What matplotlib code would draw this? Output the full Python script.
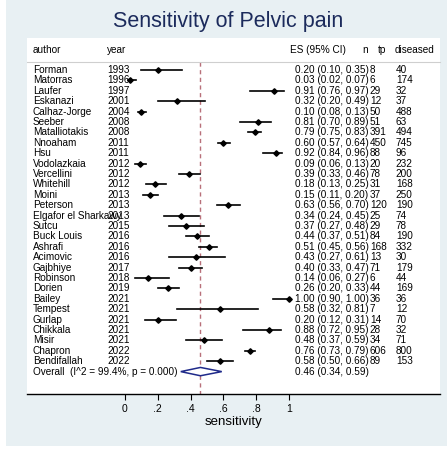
"""Forest plot: sensitivity of pelvic pain across studies (metaprop style)."""

import matplotlib
matplotlib.use("Agg")
import matplotlib.pyplot as plt
from matplotlib.patches import Polygon, Rectangle
from matplotlib.transforms import blended_transform_factory

plt.rcParams["font.family"] = ["Liberation Sans", "DejaVu Sans"]

authors = [
    "Forman", "Matorras", "Laufer", "Eskanazi", "Calhaz-Jorge", "Seeber",
    "Matalliotakis", "Nnoaham", "Hsu", "Vodolazkaia", "Vercellini", "Whitehill",
    "Moini", "Peterson", "Elgafor el Sharkawy", "Sutcu", "Buck Louis", "Ashrafi",
    "Acimovic", "Gajbhiye", "Robinson", "Dorien", "Bailey", "Tempest", "Gurlap",
    "Chikkala", "Misir", "Chapron", "Bendifallah",
]
years = [
    1993, 1996, 1997, 2001, 2004, 2008, 2008, 2011, 2011, 2012, 2012, 2012,
    2013, 2013, 2013, 2015, 2016, 2016, 2016, 2017, 2018, 2019, 2021, 2021,
    2021, 2021, 2021, 2022, 2022,
]
es = [
    0.20, 0.03, 0.91, 0.32, 0.10, 0.81, 0.79, 0.60, 0.92, 0.09, 0.39, 0.18,
    0.15, 0.63, 0.34, 0.37, 0.44, 0.51, 0.43, 0.40, 0.14, 0.26, 1.00, 0.58,
    0.20, 0.88, 0.48, 0.76, 0.58,
]
ci_lo = [
    0.10, 0.02, 0.76, 0.20, 0.08, 0.70, 0.75, 0.57, 0.84, 0.06, 0.33, 0.13,
    0.11, 0.56, 0.24, 0.27, 0.37, 0.45, 0.27, 0.33, 0.06, 0.20, 0.90, 0.32,
    0.12, 0.72, 0.37, 0.73, 0.50,
]
ci_hi = [
    0.35, 0.07, 0.97, 0.49, 0.13, 0.89, 0.83, 0.64, 0.96, 0.13, 0.46, 0.25,
    0.20, 0.70, 0.45, 0.48, 0.51, 0.56, 0.61, 0.47, 0.27, 0.33, 1.00, 0.81,
    0.31, 0.95, 0.59, 0.79, 0.66,
]
tp = [
    8, 6, 29, 12, 50, 51, 391, 450, 88, 20, 78, 31, 37, 120, 25, 29, 84, 168,
    13, 71, 6, 44, 36, 7, 14, 28, 34, 606, 89,
]
diseased = [
    40, 174, 32, 37, 488, 63, 494, 745, 96, 232, 200, 168, 250, 190, 74, 78,
    190, 332, 30, 179, 44, 169, 36, 12, 70, 32, 71, 800, 153,
]
overall_es, overall_lo, overall_hi = 0.46, 0.34, 0.59
overall_label = "Overall  (I^2 = 99.4%, p = 0.000)"
xticks = [0, 0.2, 0.4, 0.6, 0.8, 1.0]
xtick_labels = ["0", ".2", ".4", ".6", ".8", "1"]

W, H = 447, 455
fig = plt.figure(figsize=(W / 100, H / 100), dpi=100)
fig.patch.set_facecolor("white")

# light bluish graph region behind the white plot area
fig.add_artist(Rectangle((6 / W, 9 / H), 1 - 6 / W, 1 - 9 / H,
                         transform=fig.transFigure, facecolor="#e8f0f3",
                         edgecolor="none", zorder=0))

left, right, top, bottom = 27, 440, 38, 394
ax = fig.add_axes([left / W, 1 - bottom / H, (right - left) / W, (bottom - top) / H])
ax.set_facecolor("white")

# x: 0 -> px 125, 1 -> px 289
x0, scale = 125, 164
ax.set_xlim((left - x0) / scale, (right - x0) / scale)
row0, step = 70, 10.4
ax.set_ylim((bottom - row0) / step, (top - row0) / step)

for s in ["top", "left", "right"]:
    ax.spines[s].set_visible(False)
ax.spines["bottom"].set_linewidth(1.0)
ax.set_yticks([])
ax.set_xticks(xticks)
ax.set_xticklabels(xtick_labels, fontsize=7.5)
ax.tick_params(axis="x", length=4, width=0.8, pad=3)
ax.set_xlabel("sensitivity", fontsize=9.5, labelpad=2)

tr = blended_transform_factory(ax.transAxes, ax.transData)
fs = 7.2
n = len(authors)

# column headers and rule
header_y = (50 - row0) / step
for txt, xf in [("author", 0.0145), ("year", 0.194), ("ES (95% CI)", 0.637),
                ("n", 0.811), ("tp", 0.850), ("diseased", 0.891)]:
    ax.text(xf, header_y, txt, transform=tr, fontsize=fs, va="center", ha="left")
ax.plot([0, 1], [(62 - row0) / step] * 2, transform=tr, color="#cfcfcf",
        lw=0.8, clip_on=False)

# reference line at pooled estimate
ax.plot([overall_es, overall_es], [(62 - row0) / step, (bottom - row0) / step],
        color="#b8707a", lw=1.0, ls=(0, (3, 2.5)), zorder=1)

for i in range(n):
    ax.plot([ci_lo[i], ci_hi[i]], [i, i], color="black", lw=1.2, zorder=2)
    ax.plot(es[i], i, marker="D", ms=2.8, color="black", zorder=3)
    ax.text(0.0145, i, authors[i], transform=tr, fontsize=fs, va="center")
    ax.text(0.194, i, str(years[i]), transform=tr, fontsize=fs, va="center")
    ax.text(0.649, i, f"{es[i]:.2f} ({ci_lo[i]:.2f}, {ci_hi[i]:.2f})",
            transform=tr, fontsize=fs, va="center")
    ax.text(0.830, i, str(tp[i]), transform=tr, fontsize=fs, va="center")
    ax.text(0.893, i, str(diseased[i]), transform=tr, fontsize=fs, va="center")

# pooled diamond
yo = n
h = 0.4
ax.add_patch(Polygon([(overall_lo, yo), (overall_es, yo - h),
                      (overall_hi, yo), (overall_es, yo + h)],
                     closed=True, facecolor="white", edgecolor="#1f2a8a",
                     lw=1.1, zorder=3))
ax.text(0.0145, yo, overall_label, transform=tr, fontsize=fs, va="center")
ax.text(0.649, yo, f"{overall_es:.2f} ({overall_lo:.2f}, {overall_hi:.2f})",
        transform=tr, fontsize=fs, va="center")

fig.text(228 / W, 1 - 21 / H, "Sensitivity of Pelvic pain", fontsize=15.5,
         color="#1c2b5c", ha="center", va="center")

fig.savefig("out.png", dpi=100, facecolor=fig.get_facecolor())
